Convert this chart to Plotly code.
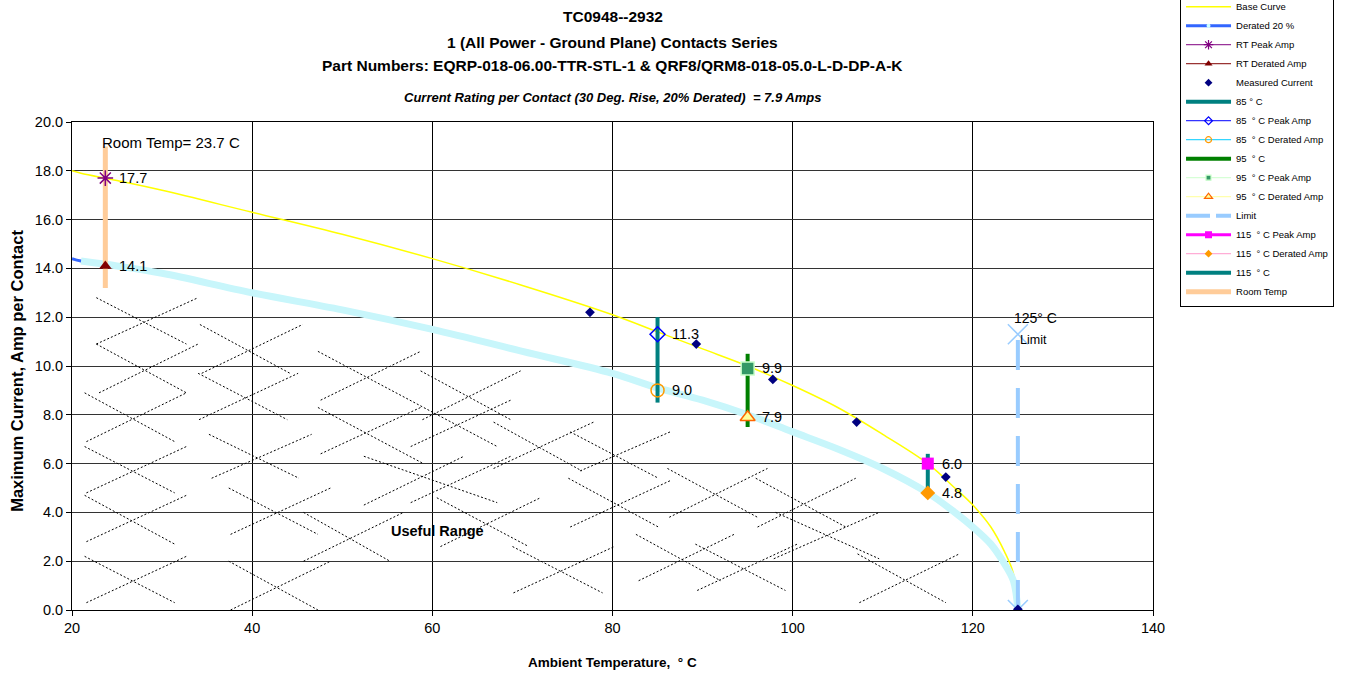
import plotly.graph_objects as go

# ---------------- data ----------------
temps = [20, 21, 25, 30, 40, 50, 60, 70, 80, 85, 90, 95, 100, 105, 110, 115, 118, 120, 122, 123.5, 124.5, 125]
base_curve = [18.0, 17.9, 17.6, 17.2, 16.3, 15.4, 14.4, 13.3, 12.1, 11.4, 10.7, 10.0, 9.2, 8.3, 7.2, 6.0, 5.0, 4.3, 3.4, 2.4, 1.5, 0.0]
derated_curve = [14.4, 14.3, 14.1, 13.8, 13.0, 12.3, 11.5, 10.6, 9.7, 9.1, 8.6, 8.0, 7.3, 6.6, 5.8, 4.8, 4.0, 3.4, 2.7, 1.9, 1.2, 0.0]

meas_t = [77.5, 89.3, 97.8, 107.1, 117.0, 125.0]
meas_i = [12.2, 10.9, 9.45, 7.7, 5.45, 0.03]

rt_temp = 23.7
rt_peak = 17.7
rt_derated = 14.1
room_bar = [13.2, 19.0]

t85, peak85, der85, bar85 = 85, 11.3, 9.0, [8.5, 12.0]
t95, peak95, der95, bar95 = 95, 9.9, 7.9, [7.5, 10.5]
t115, peak115, der115, bar115 = 115, 6.0, 4.8, [4.8, 6.4]
limit_t, limit_y = 125, [0.0, 11.3]

x_ticks = [20, 40, 60, 80, 100, 120, 140]
y_ticks = [0, 2, 4, 6, 8, 10, 12, 14, 16, 18, 20]

# "Useful Range" hatch pattern segments (x1, y1, x2, y2) in data units
hatch = [
    (22.7, 12.8, 32.7, 10.9), (22.7, 10.9, 34.0, 12.8), (22.7, 10.9, 32.7, 8.9), (23.0, 8.9, 34.0, 10.9),
    (21.4, 8.9, 31.4, 6.9), (21.6, 6.9, 32.7, 8.9), (21.4, 6.7, 31.4, 4.8), (21.6, 4.8, 32.7, 6.7),
    (21.4, 4.7, 31.4, 2.7), (21.6, 2.8, 32.7, 4.7), (21.4, 2.2, 31.4, 0.3), (21.6, 0.3, 32.7, 2.2),
    (34.2, 11.7, 44.2, 9.7), (34.4, 9.7, 45.6, 11.7), (34.0, 9.7, 43.9, 7.8), (34.1, 7.8, 45.1, 9.7),
    (35.2, 7.2, 45.2, 5.4), (35.5, 5.4, 46.6, 7.2), (37.4, 5.0, 47.3, 3.1), (37.6, 3.1, 48.7, 5.0),
    (37.4, 2.0, 47.3, 0.0), (37.6, 0.0, 48.7, 2.0),
    (47.3, 10.6, 67.2, 6.7), (47.6, 8.6, 58.7, 10.6), (47.3, 8.3, 59.0, 6.0), (47.6, 6.4, 58.7, 8.3),
    (58.7, 9.8, 68.7, 7.8), (58.9, 7.8, 69.8, 9.8), (57.6, 6.7, 68.7, 8.6),
    (66.8, 7.7, 76.6, 5.7), (66.8, 5.8, 77.9, 7.7), (75.3, 7.3, 85.1, 5.4), (76.4, 5.7, 86.4, 7.3),
    (75.1, 5.4, 85.1, 3.4), (75.3, 3.4, 86.4, 5.3),
    (52.4, 6.3, 67.2, 4.4), (52.4, 4.3, 63.5, 6.3), (57.6, 4.4, 68.7, 6.3),
    (60.9, 2.6, 72.0, 4.6), (60.5, 4.6, 70.7, 2.6), (68.9, 2.6, 78.9, 0.7), (69.0, 0.7, 80.2, 2.6),
    (45.7, 4.0, 55.3, 2.0), (45.7, 2.0, 56.8, 4.0),
    (82.6, 3.1, 92.0, 1.2), (82.9, 1.2, 93.5, 3.1), (86.1, 5.8, 96.1, 3.8), (86.3, 3.8, 97.2, 5.8),
    (95.9, 5.4, 105.9, 3.4), (96.1, 3.4, 107.0, 5.4), (89.2, 2.7, 99.2, 0.8), (89.4, 0.8, 100.5, 2.7),
    (98.1, 4.0, 109.6, 2.1), (97.9, 2.1, 109.6, 4.0), (107.2, 2.3, 117.0, 0.3), (107.4, 0.3, 118.5, 2.3),
]

FONT = "Liberation Sans, Arial, sans-serif"
NB = "\u00a0"

fig = go.Figure()

# hatch
hx, hy = [], []
for x1, y1, x2, y2 in hatch:
    hx += [x1, x2, None]
    hy += [y1, y2, None]
fig.add_trace(go.Scatter(x=hx, y=hy, mode="lines", line=dict(color="black", width=1, dash="2px,2px"),
                         showlegend=False, hoverinfo="skip"))


def legend_proxy(name, rank, mode, line=None, marker=None):
    fig.add_trace(go.Scatter(x=[None], y=[None], name=name, mode=mode, legendrank=rank,
                             line=line or {}, marker=marker or {}))


# curves
fig.add_trace(go.Scatter(x=temps, y=base_curve, name="Base Curve", mode="lines", legendrank=1,
                         line=dict(color="#ffff00", width=1.5, shape="spline")))
fig.add_trace(go.Scatter(x=temps, y=derated_curve, mode="lines", showlegend=False,
                         line=dict(color="#3366ff", width=3, shape="spline")))
fig.add_trace(go.Scatter(x=temps[1:], y=derated_curve[1:], mode="lines", showlegend=False, hoverinfo="skip",
                         line=dict(color="#c8f6fb", width=7, shape="spline")))
legend_proxy("Derated 20 %", 2, "lines+markers", dict(color="#3366ff", width=3),
             dict(color="#ccffff", size=4, symbol="circle"))


# vertical bars
def vbar(x, ys, name, color, width, rank):
    fig.add_trace(go.Scatter(x=[x, x], y=ys, name=name, mode="lines", legendrank=rank,
                             line=dict(color=color, width=width)))


vbar(rt_temp, room_bar, "Room Temp", "#ffcc99", 5, 16)
vbar(t85, bar85, "85 ° C", "#008080", 4, 6)
vbar(t95, bar95, "95" + NB + " ° C", "#008000", 4, 9)
vbar(t115, bar115, "115" + NB + " ° C", "#008080", 4, 15)

# limit
fig.add_trace(go.Scatter(x=[limit_t, limit_t], y=limit_y, mode="lines+markers", showlegend=False,
                         line=dict(color="#99ccff", width=4, dash="30px,18px"),
                         marker=dict(symbol="x-thin-open", size=20, line=dict(color="#99ccff", width=1.5))))
legend_proxy("Limit", 12, "lines", dict(color="#99ccff", width=4, dash="24px,6px"))

# measured
fig.add_trace(go.Scatter(x=meas_t, y=meas_i, mode="markers", showlegend=False,
                         marker=dict(symbol="diamond", size=7.5, color="#000080")))
legend_proxy("Measured Current", 5, "markers", None, dict(symbol="diamond", size=6, color="#000080"))


def pt(x, y, name, rank, symbol, size, lsize, fill, edge, lw, linecolor, linew=1):
    fig.add_trace(go.Scatter(x=[x], y=[y], mode="markers", showlegend=False,
                             marker=dict(symbol=symbol, size=size, color=fill,
                                         line=dict(color=edge, width=lw))))
    legend_proxy(name, rank, "lines+markers", dict(color=linecolor, width=linew),
                 dict(symbol=symbol, size=lsize, color=fill, line=dict(color=edge, width=min(lw, 1.2))))


pt(rt_temp, rt_peak, "RT Peak Amp", 3, "asterisk-open", 13, 8, "#800080", "#800080", 1.5, "#800080")
pt(rt_temp, rt_derated, "RT Derated Amp", 4, "triangle-up", 11, 7, "#800000", "#800000", 0, "#800000")
pt(t85, peak85, "85" + NB + " ° C Peak Amp", 7, "diamond-open", 11.5, 6, "#0000ff", "#0000ff", 1.5, "#0000ff")
pt(t85, der85, "85" + NB + " ° C Derated Amp", 8, "circle-open", 13, 6, "#ff9900", "#ff9900", 1.5, "#00ccff")
pt(t95, peak95, "95" + NB + " ° C Peak Amp", 10, "square", 13, 5, "#339966", "#ccffcc", 1.5, "#ccffcc")
pt(t95, der95, "95" + NB + " ° C Derated Amp", 11, "triangle-up", 13, 7, "#ffff99", "#ff6600", 1.5, "#ffff99")
pt(t115, peak115, "115" + NB + " ° C Peak Amp", 13, "square", 12, 7, "#ff00ff", "#ff00ff", 0, "#ff00ff", 3)
pt(t115, der115, "115" + NB + " ° C Derated Amp", 14, "diamond", 11.5, 6, "#ff9900", "#ff9900", 0, "#ff99cc")

annotations = []
for x, y in [(rt_temp, rt_peak), (rt_temp, rt_derated), (t85, peak85), (t85, der85),
             (t95, peak95), (t95, der95), (t115, peak115), (t115, der115)]:
    annotations.append(dict(x=x, y=y, text=f"{y:.1f}", showarrow=False, xanchor="left", yanchor="middle",
                            xshift=12, font=dict(size=14.5, color="black")))
annotations.append(dict(x=rt_temp, y=room_bar[1], text="Room Temp= 23.7 C", showarrow=False,
                        xanchor="left", yanchor="middle", xshift=-5, yshift=4, font=dict(size=15)))
annotations.append(dict(x=limit_t, y=limit_y[1], text="125° C", showarrow=False,
                        xanchor="left", yanchor="middle", xshift=-6, yshift=16, font=dict(size=14)))
annotations.append(dict(x=limit_t, y=limit_y[1], text="Limit", showarrow=False,
                        xanchor="left", yanchor="middle", xshift=0, yshift=-6, font=dict(size=12.5)))
annotations.append(dict(x=60.6, y=3.24, text="<b>Useful Range</b>", showarrow=False, font=dict(size=14.5)))

# titles
for txt, yy, fs in [("<b>TC0948--2932</b>", 1.2152, 15.5),
                    ("<b>1 (All Power - Ground Plane) Contacts Series</b>", 1.1639, 15.5),
                    ("<b>Part Numbers: EQRP-018-06.00-TTR-STL-1 &amp; QRF8/QRM8-018-05.0-L-D-DP-A-K</b>", 1.1148, 15.5),
                    ("<b><i>Current Rating per Contact (30 Deg. Rise, 20% Derated)" + NB + " = 7.9 Amps</i></b>", 1.0512, 13)]:
    annotations.append(dict(xref="paper", yref="paper", x=0.5, y=yy, text=txt, showarrow=False,
                            xanchor="center", yanchor="middle", font=dict(size=fs)))
annotations.append(dict(xref="paper", yref="paper", x=0.5, y=-0.1086,
                        text="<b>Ambient Temperature," + NB + " ° C</b>", showarrow=False,
                        xanchor="center", yanchor="middle", font=dict(size=13.5)))
annotations.append(dict(xref="paper", yref="paper", x=-0.0509, y=0.49, textangle=-90,
                        text="<b>Maximum Current, Amp per Contact</b>", showarrow=False,
                        xanchor="center", yanchor="middle", font=dict(size=16.5)))

fig.update_layout(
    width=1348, height=675,
    margin=dict(l=72, r=195, t=122, b=65, autoexpand=False),
    paper_bgcolor="white", plot_bgcolor="white",
    font=dict(family=FONT, color="black", size=12),
    hovermode=False,
    annotations=annotations,
    legend=dict(x=1.025, xanchor="left", y=1.268, yanchor="top", bgcolor="white",
                bordercolor="black", borderwidth=1, font=dict(size=9.5), tracegroupgap=0,
                itemwidth=45),
    xaxis=dict(range=[20, 140], tickvals=x_ticks, showgrid=True, gridcolor="black", gridwidth=1,
               showline=True, linecolor="black", linewidth=1, mirror=True, zeroline=False,
               ticks="outside", ticklen=5, tickcolor="black", tickfont=dict(size=14.5)),
    yaxis=dict(range=[0, 20], tickvals=y_ticks, tickformat=".1f", showgrid=True, gridcolor="#333333",
               gridwidth=1, showline=True, linecolor="black", linewidth=1, mirror=True, zeroline=False,
               ticks="outside", ticklen=5, tickcolor="black", tickfont=dict(size=14.5)),
)

fig.write_html("out.html", config={"displayModeBar": False},
               post_script="document.body.style.margin='0px';")
